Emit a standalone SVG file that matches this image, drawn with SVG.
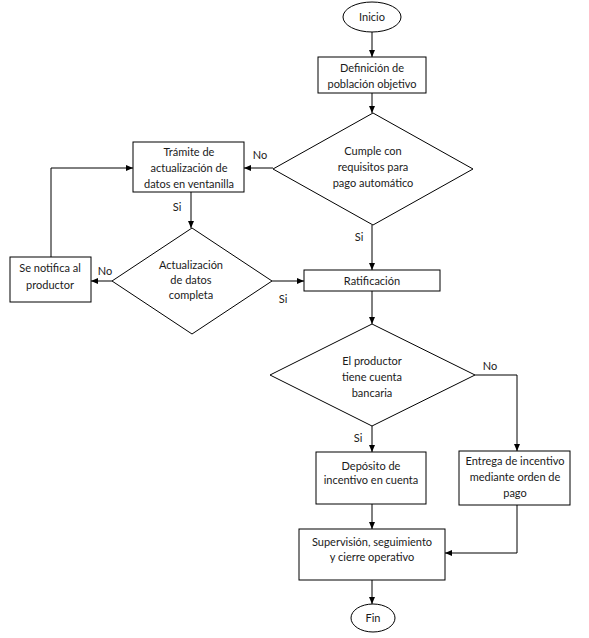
<svg xmlns="http://www.w3.org/2000/svg" width="589" height="638" viewBox="0 0 589 638">
<defs>
<marker id="ah" markerWidth="7" markerHeight="6" refX="7" refY="3" orient="auto" markerUnits="userSpaceOnUse">
<path d="M0,0 L7,3 L0,6 Z" fill="#000"/>
</marker>
<style>
.s{fill:#fff;stroke:#000;stroke-width:1}
.t{font-family:Lato,"Liberation Sans",sans-serif;font-size:11px;fill:#1a1a1a;text-anchor:middle}
.c{fill:none;stroke:#000;stroke-width:1}
</style>
</defs>
<rect width="589" height="638" fill="#fff"/>
<g id="connectors">
<path class="c" d="M372,32 V57" marker-end="url(#ah)"/>
<path class="c" d="M372,93 V113" marker-end="url(#ah)"/>
<path class="c" d="M273,168 H244" marker-end="url(#ah)"/>
<path class="c" d="M372,225 V270" marker-end="url(#ah)"/>
<path class="c" d="M191,192 V228" marker-end="url(#ah)"/>
<path class="c" d="M112,281 H91" marker-end="url(#ah)"/>
<path class="c" d="M51,257 V168 H133" marker-end="url(#ah)"/>
<path class="c" d="M272,281 H304" marker-end="url(#ah)"/>
<path class="c" d="M372,291 V324" marker-end="url(#ah)"/>
<path class="c" d="M475,375 H517 V451" marker-end="url(#ah)"/>
<path class="c" d="M372,426 V452" marker-end="url(#ah)"/>
<path class="c" d="M372,504 V529" marker-end="url(#ah)"/>
<path class="c" d="M517,505 V553 H445" marker-end="url(#ah)"/>
<path class="c" d="M372,580 V604" marker-end="url(#ah)"/>
<text class="t" x="260" y="159">No</text>
<text class="t" x="359" y="241">Si</text>
<text class="t" x="177" y="211">Si</text>
<text class="t" x="105" y="275">No</text>
<text class="t" x="283" y="303">Si</text>
<text class="t" x="490" y="370">No</text>
<text class="t" x="358" y="442">Si</text>
</g>
<g id="inicio">
<ellipse class="s" cx="372" cy="17" rx="29" ry="15"/>
<text class="t" x="372" y="21">Inicio</text>
</g>
<g id="definicion">
<rect class="s" x="318" y="57" width="108" height="36"/>
<text class="t" x="372" y="72">Definición de</text>
<text class="t" x="372" y="88">población objetivo</text>
</g>
<g id="cumple">
<path class="s" d="M373,113 L473,169 L373,225 L273,169 Z"/>
<text class="t" x="373" y="155">Cumple con</text>
<text class="t" x="373" y="171">requisitos para</text>
<text class="t" x="373" y="187">pago automático</text>
</g>
<g id="tramite">
<rect class="s" x="133" y="142" width="111" height="50"/>
<text class="t" x="189" y="156">Trámite de</text>
<text class="t" x="189" y="172">actualización de</text>
<text class="t" x="189" y="188">datos en ventanilla</text>
</g>
<g id="actualizacion">
<path class="s" d="M192,228 L272,281 L192,334 L112,281 Z"/>
<text class="t" x="191" y="269">Actualización</text>
<text class="t" x="191" y="284">de datos</text>
<text class="t" x="191" y="299">completa</text>
</g>
<g id="notifica">
<rect class="s" x="10" y="257" width="81" height="45"/>
<text class="t" x="50" y="272">Se notifica al</text>
<text class="t" x="50" y="289">productor</text>
</g>
<g id="ratificacion">
<rect class="s" x="304" y="270" width="136" height="21"/>
<text class="t" x="372" y="285">Ratificación</text>
</g>
<g id="cuenta">
<path class="s" d="M372,324 L475,375 L372,426 L270,375 Z"/>
<text class="t" x="372" y="365">El productor</text>
<text class="t" x="372" y="381">tiene cuenta</text>
<text class="t" x="372" y="397">bancaria</text>
</g>
<g id="deposito">
<rect class="s" x="316" y="452" width="110" height="52"/>
<text class="t" x="371" y="470">Depósito de</text>
<text class="t" x="371" y="484">incentivo en cuenta</text>
</g>
<g id="entrega">
<rect class="s" x="459" y="451" width="111" height="54"/>
<text class="t" x="515" y="465">Entrega de incentivo</text>
<text class="t" x="515" y="481">mediante orden de</text>
<text class="t" x="515" y="497">pago</text>
</g>
<g id="supervision">
<rect class="s" x="299" y="529" width="146" height="51"/>
<text class="t" x="372" y="546">Supervisión, seguimiento</text>
<text class="t" x="372" y="561">y cierre operativo</text>
</g>
<g id="fin">
<ellipse class="s" cx="373" cy="618" rx="22" ry="14"/>
<text class="t" x="373" y="622">Fin</text>
</g>
</svg>
